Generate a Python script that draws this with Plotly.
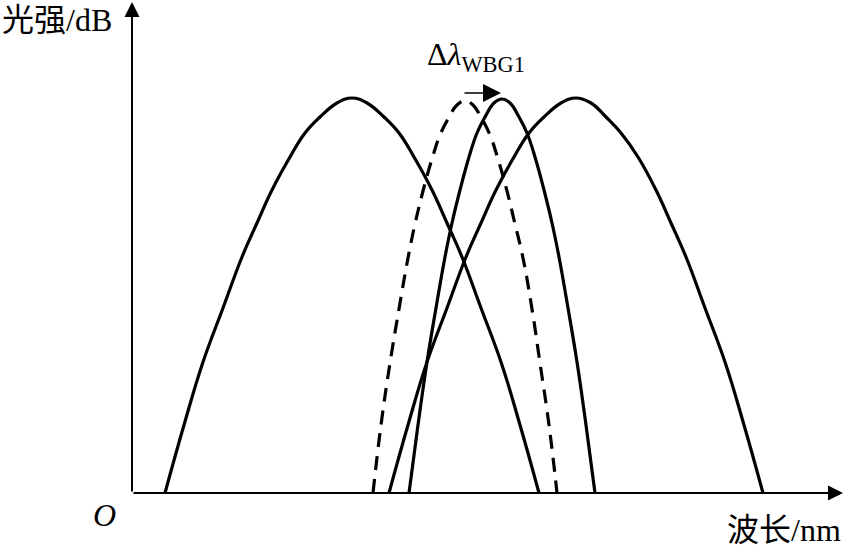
import plotly.graph_objects as go

# wavelength / intensity points (origin at the axes corner)
wideLeftX = [33, 52, 71, 91, 110, 125, 140, 158, 173, 188, 205, 220,
             235, 252, 267, 282, 300, 315, 330, 349, 369, 388, 407]
wideLeftY = [0, 68, 131, 185, 236, 270, 303, 336, 360, 376, 390, 395,
             390, 376, 360, 336, 303, 270, 236, 185, 131, 68, 0]

dashedX = [241, 249, 258, 267, 276, 283, 291, 300, 308, 316, 325, 333,
           341, 350, 358, 366, 375, 383, 391, 400, 408, 417, 425]
dashedY = [0, 68, 130, 184, 235, 269, 302, 334, 358, 374, 388, 392,
           388, 374, 358, 334, 302, 269, 235, 184, 130, 68, 0]

narrowX = [277, 286, 295, 304, 313, 320, 328, 337, 345, 353, 362, 370,
           378, 387, 395, 403, 412, 420, 427, 436, 445, 454, 463]
narrowY = [0, 68, 131, 185, 236, 270, 303, 336, 360, 376, 390, 394,
           390, 376, 360, 336, 303, 270, 236, 185, 131, 68, 0]

wideRightX = [257, 276, 295, 315, 334, 349, 364, 382, 397, 412, 429, 444,
              459, 474, 489, 506, 524, 539, 554, 573, 593, 612, 631]
wideRightY = [0, 68, 131, 185, 236, 270, 303, 336, 360, 376, 390, 395,
              390, 376, 360, 336, 303, 270, 236, 185, 131, 68, 0]

xAxisEnd = 711
yAxisEnd = 491
shiftStart = 331
shiftEnd = 369
shiftLevel = 400

yLabel = "光强/dB"
xLabel = "波长/nm"
originLabel = "<i>O</i>"
shiftLabel = "Δ<i>λ</i><sub>WBG1</sub>"

fontFamily = "Liberation Serif, Times New Roman, Noto Sans CJK SC"

fig = go.Figure()

solidLine = dict(color="black", width=3.2, shape="spline", smoothing=1.2)
dashedLine = dict(color="black", width=3.2, shape="spline", smoothing=1.2, dash="14px,9px")

fig.add_trace(go.Scatter(x=wideLeftX, y=wideLeftY, mode="lines", line=solidLine))
fig.add_trace(go.Scatter(x=dashedX, y=dashedY, mode="lines", line=dashedLine))
fig.add_trace(go.Scatter(x=narrowX, y=narrowY, mode="lines", line=solidLine))
fig.add_trace(go.Scatter(x=wideRightX, y=wideRightY, mode="lines", line=solidLine))

# axes drawn as arrows
fig.add_annotation(x=xAxisEnd, y=0, ax=0, ay=0, xref="x", yref="y", axref="x", ayref="y",
                   text="", showarrow=True, arrowhead=2, arrowsize=1.5, arrowwidth=2,
                   arrowcolor="black", standoff=0, startstandoff=0)
fig.add_annotation(x=0, y=yAxisEnd, ax=0, ay=0, xref="x", yref="y", axref="x", ayref="y",
                   text="", showarrow=True, arrowhead=2, arrowsize=1.5, arrowwidth=2,
                   arrowcolor="black", standoff=0, startstandoff=0)

# shift arrow
fig.add_annotation(x=shiftEnd, y=shiftLevel, ax=shiftStart, ay=shiftLevel, xref="x", yref="y",
                   axref="x", ayref="y", text="", showarrow=True, arrowhead=2, arrowsize=2.4,
                   arrowwidth=1.5, arrowcolor="black", standoff=0)

fig.add_annotation(x=-132, y=473, xref="x", yref="y", text=yLabel, showarrow=False,
                   xanchor="left", yanchor="middle", font=dict(size=32, color="black", family=fontFamily))
fig.add_annotation(x=711, y=-37, xref="x", yref="y", text=xLabel, showarrow=False,
                   xanchor="right", yanchor="middle", font=dict(size=32, color="black", family=fontFamily))
fig.add_annotation(x=-28, y=-22, xref="x", yref="y", text=originLabel, showarrow=False,
                   xanchor="center", yanchor="middle", font=dict(size=32, color="black", family=fontFamily))
fig.add_annotation(x=293, y=437, xref="x", yref="y", text=shiftLabel, showarrow=False,
                   xanchor="left", yanchor="middle", font=dict(size=32, color="black", family=fontFamily))

fig.update_xaxes(range=[-132, 714], visible=False, showgrid=False, zeroline=False)
fig.update_yaxes(range=[-55, 493], visible=False, showgrid=False, zeroline=False)

fig.update_layout(
    width=846,
    height=548,
    margin=dict(l=0, r=0, t=0, b=0),
    plot_bgcolor="white",
    paper_bgcolor="white",
    showlegend=False,
)

# drop the page's default body margin so the figure sits at the window corner
fig.write_html("out.html", config={"displayModeBar": False},
               post_script="document.body.style.margin='0';document.body.style.overflow='hidden';")
